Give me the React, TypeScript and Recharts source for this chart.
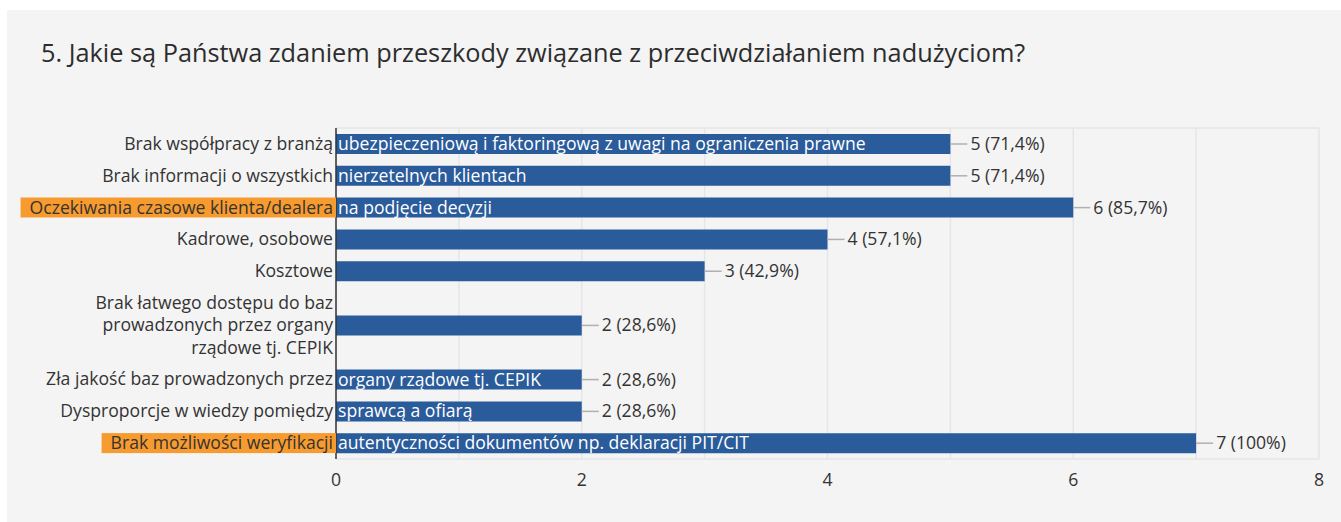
import { useLayoutEffect, useRef, useState } from "react";
import { Bar, BarChart, CartesianGrid, ReferenceLine, XAxis, YAxis } from "recharts";

const TITLE = "5. Jakie są Państwa zdaniem przeszkody związane z przeciwdziałaniem nadużyciom?";

// label text as it is drawn: the part left of the axis and the part that spills into the bar
const LABEL_HEAD = [
  "Brak współpracy z branżą",
  "Brak informacji o wszystkich",
  "Oczekiwania czasowe klienta/dealera",
  "Kadrowe, osobowe",
  "Kosztowe",
  "Brak łatwego dostępu do baz\nprowadzonych przez organy\nrządowe tj. CEPIK",
  "Zła jakość baz prowadzonych przez",
  "Dysproporcje w wiedzy pomiędzy",
  "Brak możliwości weryfikacji"
];
const LABEL_TAIL = [
  "ubezpieczeniową i faktoringową z uwagi na ograniczenia prawne",
  "nierzetelnych klientach",
  "na podjęcie decyzji",
  "",
  "",
  "",
  "organy rządowe tj. CEPIK",
  "sprawcą a ofiarą",
  "autentyczności dokumentów np. deklaracji PIT/CIT"
];
const HIGHLIGHTED = [false, false, true, false, false, false, false, false, true];
const COUNTS = [5, 5, 6, 4, 3, 2, 2, 2, 7];
const PERCENTS = ["71,4%", "71,4%", "85,7%", "57,1%", "42,9%", "28,6%", "28,6%", "28,6%", "100%"];
const X_TICKS = [0, 1, 2, 3, 4, 5, 6, 7, 8];

const FONT = "'Open Sans', sans-serif";
const TEXT = "#333333";
const BAR = "#2a5b9b";
const ORANGE = "#f79b2f";
const GRID = "#e6e6e6";
const ROW_H = 32;
const LINE_H = 22.5;
const LABEL_SIZE = 17.6;

// rows with wrapped labels get taller bands
const rowHeights = LABEL_HEAD.map((l) => ROW_H + (l.split("\n").length - 1) * LINE_H);
const TOTAL_H = rowHeights.reduce((a, b) => a + b, 0);
let acc = 0;
const data = LABEL_HEAD.map((label, i) => {
  const pos = acc + rowHeights[i] / 2;
  acc += rowHeights[i];
  return { label, tail: LABEL_TAIL[i], count: COUNTS[i], pct: PERCENTS[i], pos };
});
const Y_TICKS = data.map((d) => d.pos);

function HeadText({ x, y, lines, highlight }: any) {
  const ref = useRef<SVGTextElement>(null);
  const [box, setBox] = useState<any>(null);
  useLayoutEffect(() => {
    if (highlight && ref.current) setBox(ref.current.getBBox());
  }, [highlight]);
  const start = -((lines.length - 1) / 2) * LINE_H;
  return (
    <g>
      {highlight && box ? (
        <rect x={box.x - 9} y={y - 10} width={x + 3 - (box.x - 9)} height={20} fill={ORANGE} />
      ) : null}
      <text
        ref={ref}
        x={x}
        y={y}
        textAnchor="end"
        fontFamily={FONT}
        fontSize={LABEL_SIZE}
        fill={TEXT}
      >
        {lines.map((ln: string, k: number) => (
          <tspan key={k} x={x} dy={k === 0 ? start + 6 : LINE_H}>
            {ln}
          </tspan>
        ))}
      </text>
    </g>
  );
}

function CategoryTick(props: any) {
  const { x, y, index } = props;
  const row = data[index];
  if (!row) return null;
  return <HeadText x={x - 3} y={y} lines={row.label.split("\n")} highlight={HIGHLIGHTED[index]} />;
}

function ValueTick(props: any) {
  const { x, y, payload } = props;
  if (payload.value % 2 !== 0) return null;
  return (
    <text x={x} y={y + 19} textAnchor="middle" fontFamily={FONT} fontSize={17.6} fill={TEXT}>
      {payload.value}
    </text>
  );
}

function BarLabel(props: any) {
  const { x, y, width, height, index } = props;
  const row = data[index];
  const cy = y + height / 2;
  const end = x + width;
  return (
    <g fontFamily={FONT} fontSize={LABEL_SIZE}>
      {row.tail ? (
        <text x={x + 2} y={cy + 6} fill="#ffffff">
          {row.tail}
        </text>
      ) : null}
      <line x1={end} x2={end + 17} y1={cy} y2={cy} stroke="#b0b0b0" strokeWidth={1.5} />
      <text x={end + 20} y={cy + 6} fill={TEXT}>
        {`${row.count} (${row.pct})`}
      </text>
    </g>
  );
}

export default function App() {
  return (
    <div
      style={{
        position: "absolute",
        left: 7,
        top: 10,
        width: 1334,
        height: 512,
        background: "#f4f4f4"
      }}
    >
      <div
        style={{
          position: "absolute",
          left: 34,
          top: 25,
          fontFamily: FONT,
          fontSize: 25.3,
          color: "#2d2d2d",
          whiteSpace: "nowrap"
        }}
      >
        {TITLE}
      </div>
      <BarChart
        width={1334}
        height={512}
        data={data}
        layout="vertical"
        margin={{ top: 118, right: 22, left: 0, bottom: 33 }}
      >
        <CartesianGrid vertical horizontal={false} stroke={GRID} strokeWidth={1.5} />
        <XAxis
          type="number"
          domain={[0, 8]}
          ticks={X_TICKS}
          interval={0}
          axisLine={false}
          tickLine={false}
          tick={<ValueTick />}
          height={30}
        />
        <ReferenceLine y={0} stroke={GRID} strokeWidth={1.5} />
        <ReferenceLine y={TOTAL_H} stroke={GRID} strokeWidth={1.5} />
        <Bar dataKey="count" fill={BAR} barSize={20} isAnimationActive={false} label={<BarLabel />} />
        <YAxis
          type="number"
          dataKey="pos"
          domain={[0, TOTAL_H]}
          ticks={Y_TICKS}
          interval={0}
          width={329}
          tickSize={0}
          tickMargin={0}
          tickLine={false}
          axisLine={{ stroke: "#333333", strokeWidth: 1.5 }}
          tick={<CategoryTick />}
        />
      </BarChart>
    </div>
  );
}
